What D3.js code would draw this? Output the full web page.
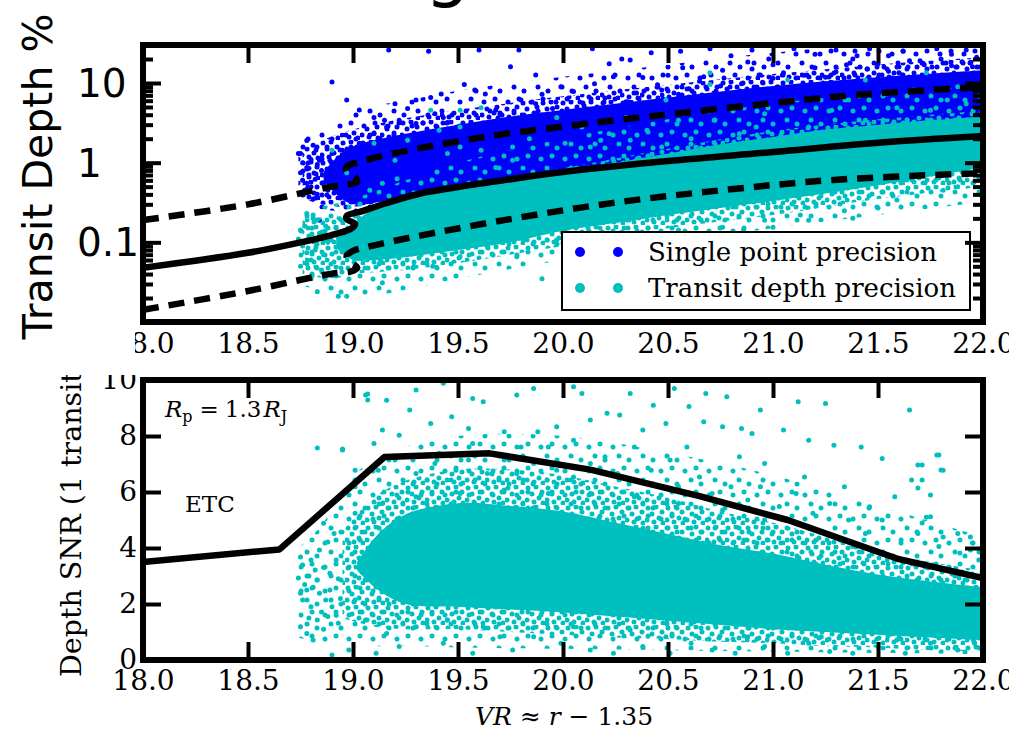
<!DOCTYPE html>
<html>
<head>
<meta charset="utf-8">
<script src="https://d3js.org/d3.v7.min.js"></script>
<style>
  body { margin: 0; background: #fff; }
  svg { display: block; }
</style>
</head>
<body>
<svg width="1009" height="731"></svg>
<script>
// ---- data ----
let xTicks = [18.0, 18.5, 19.0, 19.5, 20.0, 20.5, 21.0, 21.5, 22.0];
let depthTicks = [10, 1, 0.1];
let depthLabels = ['10', '1', '0.1'];
let snrTicks = [0, 2, 4, 6, 8, 10];

// transit depth curves (mag, depth %)
let solidDepth = [[18.0,0.048],[18.5,0.074],[18.75,0.1],[18.92,0.128],[18.99,0.148],[19.01,0.17],[18.97,0.195],[18.97,0.215],[19.04,0.245],[19.15,0.305],[19.32,0.41],[19.5,0.495],[19.75,0.62],[20.0,0.765],[20.5,1.05],[21.0,1.36],[21.5,1.78],[22.0,2.16]];
let upperDashed = [[18.0,0.19],[18.5,0.3],[18.9,0.5],[18.97,0.53],[19.02,0.57],[19.01,0.66],[18.97,0.78],[18.97,0.9],[19.03,1.02],[19.1,1.15],[19.2,1.32],[19.6,2.05],[20.14,3.15],[20.56,4.2],[21.0,5.6],[21.4,7.1],[22.0,8.9]];
let lowerDashed = [[18.0,0.0142],[18.5,0.0245],[18.9,0.0405],[18.99,0.043],[19.02,0.048],[18.98,0.058],[18.97,0.068],[19.0,0.078],[19.07,0.088],[19.29,0.117],[19.72,0.19],[20.24,0.313],[20.77,0.455],[21.29,0.607],[22.0,0.74]];

// point clouds as density bands [mag, low, high]: outer (sparse), mid (dense), core (solid)
let blueOuter = [[18.74,0.32,2.0],[18.85,0.26,2.6],[19.0,0.25,4.5],[19.25,0.35,6],[19.5,0.45,8],[20.0,0.65,12],[20.5,0.95,17],[21.0,1.2,24],[21.5,1.5,30],[22.0,1.8,30]];
let blueMid = [[18.76,0.36,1.5],[18.85,0.3,1.9],[19.0,0.28,2.6],[19.25,0.38,3.6],[19.5,0.48,4.6],[20.0,0.72,6.8],[20.5,1.0,9.5],[21.0,1.3,13],[21.5,1.6,17],[22.0,1.9,21]];
let blueCore = [[18.86,0.6,0.75],[18.92,0.4,1.15],[19.0,0.3,1.6],[19.25,0.38,2.3],[19.5,0.5,3.0],[19.75,0.62,3.8],[20.0,0.76,4.6],[20.5,1.05,6.6],[21.0,1.35,9.2],[21.5,1.7,11.8],[22.0,2.1,14.5]];
let cyanOuter = [[18.74,0.03,0.25],[18.9,0.022,0.3],[19.0,0.02,0.35],[19.25,0.025,0.6],[19.5,0.035,1.0],[20.0,0.06,2.0],[20.5,0.1,3.5],[21.0,0.15,5.5],[21.5,0.22,7.5],[22.0,0.32,9]];
let cyanMid = [[18.76,0.04,0.2],[18.9,0.035,0.21],[19.0,0.04,0.22],[19.25,0.045,0.36],[19.5,0.055,0.5],[20.0,0.09,0.85],[20.5,0.15,1.5],[21.0,0.22,2.5],[21.5,0.35,3.5],[22.0,0.5,4.5]];
let cyanCore = [[18.92,0.085,0.12],[19.0,0.06,0.17],[19.1,0.06,0.27],[19.25,0.065,0.37],[19.5,0.08,0.48],[19.75,0.1,0.6],[20.0,0.14,0.78],[20.25,0.175,1.0],[20.5,0.22,1.3],[20.75,0.27,1.7],[21.0,0.33,2.1],[21.25,0.41,2.6],[21.5,0.52,3.0],[21.75,0.67,3.4],[22.0,0.87,3.8]];

let blueDots = [[19.17,26],[19.36,25],[19.6,26],[19.79,26],[20.14,27],[20.28,20],[20.42,24],[20.56,25],[20.7,27],[20.8,22],[20.9,26],[20.98,20],[21.1,27],[21.2,23],[21.3,26],[21.38,20],[21.46,27],[21.55,22],[21.62,25],[21.7,19],[21.78,27],[21.85,23],[21.92,26],[21.97,21],
  [19.75,16],[19.87,12.6],[19.99,9],[20.05,7.8],[20.22,17.5],[20.24,12],[20.32,19.4],[20.38,11.7],[20.47,8.2],[20.57,15.5],[20.67,12],[20.76,14.5],[20.88,18.4],[20.94,12.6],
  [18.97,6.1],[19.03,4.6],[19.1,3.7],[19.15,3.4],[19.26,4.8],[19.3,6.1],[19.37,6.6],[19.42,7.3],[19.53,9.6],[19.58,8.2],[19.63,7.3],[19.68,4.6],[19.87,5.5],[19.8,6.1],[19.39,4.1],[19.2,5.5],[18.9,10.3],
  [18.78,1.9],[18.81,1.66],[18.75,1.3],[18.84,1.07],[18.78,0.87],[18.9,1.3],[18.74,1.3],[18.79,0.85],[18.89,1.07],[18.95,1.43],[19.03,1.75],[19.1,2.3],[19.16,2.8],[19.22,3.4],[19.3,3.1],[19.37,2.3],[19.43,3.7],[19.55,2.8],[18.91,0.75],[19.26,1.43],
  [18.76,0.6],[18.77,0.45],[18.79,0.7],[18.8,0.5],[18.82,0.62],[18.83,0.4],[18.85,0.8],[18.76,1.0],[18.8,1.1],[18.83,0.95],[18.86,0.55],[18.88,0.45],[18.75,0.75],[18.78,0.55],[18.81,0.35],[18.84,0.19],
  [20.1,5.2],[20.2,6.5],[20.35,7.5],[20.45,9.5],[20.6,8.5],[20.65,10.5],[20.85,9.8],[21.0,11.5],[21.05,13.5],[21.15,12.5],[21.2,15.5],[21.3,13.8],[21.35,17],[21.45,15],[21.5,17.5],[21.6,16],[21.65,19],[21.72,17],[21.8,20],[21.85,16.5],[21.9,18.5],[21.95,16],[21.55,14],[21.25,11.8],[20.95,10.2],[20.75,9.2],[20.55,7.2],[20.3,5.8],[19.95,4.8],[19.7,4.2],[19.45,3.2],[19.9,7.2],[20.15,9.8],[20.5,12.5],[20.9,15],[21.4,22],[21.0,17],[21.6,13.5]];

let cyanDots = [[18.93,0.021],[19.14,0.031],[19.29,0.05],[19.38,0.05],[19.51,0.066],[19.64,0.088],[19.78,0.066],[19.9,0.035],[19.97,0.107],[20.09,0.074],[20.24,0.107],[20.38,0.13],[20.55,0.143],[20.7,0.13],[20.76,0.155],[20.86,0.143],[20.96,0.19],[21.13,0.22],[21.34,0.25],[21.5,0.27],[21.59,0.34],[21.81,0.45],[21.88,0.5],[21.0,0.155],[21.17,0.19],[21.38,0.2],
  [18.83,0.024],[18.75,0.143],[18.81,0.2],[18.9,1.43],[18.75,0.05],[18.78,0.074],[18.9,0.038],[18.86,0.107],[18.97,0.021],[18.78,0.23],[18.81,0.22],[19.08,0.45],[19.14,0.55],[19.21,0.63],[19.29,0.42],[19.13,0.06],
  [18.76,0.09],[18.79,0.12],[18.8,0.06],[18.82,0.08],[18.84,0.13],[18.86,0.07],[18.88,0.1],[18.77,0.16],[18.85,0.045],[18.8,0.035],[18.87,0.16],[18.74,0.11],
  [19.45,1.3],[19.51,1.57],[19.61,1.43],[19.76,1.07],[19.76,1.57],[19.51,4.56],[19.61,4.9],[19.37,4.56],[19.68,0.87],[19.84,2.0],[19.97,3.7],[20.01,1.75],[20.13,1.57],[20.22,2.3],[20.3,3.7],[20.32,1.91],[20.4,2.56],[20.47,1.57],[20.55,3.42],[20.49,6.1],[20.61,2.0],[20.7,9.6],[20.72,3.42],[20.8,4.9],[20.84,2.3],[20.92,2.8],[20.96,4.1],[21.07,10.9],[21.09,6.1],[21.17,2.8],[21.28,4.56],[21.36,6.1],[21.44,3.42],[21.54,7.3],[21.59,4.9],[21.67,8.15],[21.73,13.5],[21.75,4.56],[21.83,6.1],[21.88,9.0],[21.92,5.5],[21.05,1.91],[21.38,2.3],[19.51,2.8],[19.41,2.56],[19.26,1.91],[19.1,1.75],[19.2,1.07],[18.97,0.75],[20.7,13.5],[21.44,10.9],[20.18,1.91],[20.09,2.8]];

// SNR panel
let etcLine = [[18.0,3.5],[18.65,3.95],[19.15,7.25],[19.65,7.38],[20.13,6.8],[20.65,5.85],[21.07,5.0],[21.6,3.6],[22.0,2.93]];
let snrOuter = [[18.74,0.8,4.0],[18.85,0.6,4.8],[19.0,0.5,6.6],[19.25,0.5,7.6],[19.5,0.45,8.0],[20.0,0.4,8.0],[20.5,0.35,7.4],[21.0,0.3,6.6],[21.5,0.25,5.5],[22.0,0.2,4.4]];
let snrMid = [[18.95,1.5,4.6],[19.1,1.2,5.8],[19.25,1.1,6.4],[19.5,1.1,6.8],[19.75,1.0,6.8],[20.0,0.9,6.6],[20.25,0.8,6.2],[20.5,0.75,5.8],[20.75,0.65,5.3],[21.0,0.6,4.9],[21.25,0.5,4.4],[21.5,0.45,3.9],[21.75,0.35,3.5],[22.0,0.3,3.2]];
let snrCore = [[19.02,3.2,3.5],[19.12,2.5,4.5],[19.25,2.0,5.2],[19.5,1.9,5.6],[19.75,1.8,5.5],[20.0,1.7,5.3],[20.25,1.55,4.9],[20.5,1.4,4.5],[20.75,1.25,4.1],[21.0,1.1,3.8],[21.25,1.0,3.4],[21.5,0.9,3.05],[21.75,0.8,2.8],[22.0,0.7,2.6]];
let snrDots = [[18.75,3.68],[18.76,3.39],[18.8,3.57],[18.84,3.93],[18.88,4.21],[18.91,4.52],[18.86,4.88],[18.75,2.38],[18.78,2.5],[18.76,2.14],[18.8,1.9],[18.83,2.86],[18.84,2.38],[18.87,2.14],[18.89,2.5],[18.9,1.9],[18.75,1.19],[18.78,0.95],[18.81,0.71],[18.83,1.43],[18.88,1.55],[18.9,0.18],[18.82,3.21],[18.89,3.1],[18.92,3.57],[18.85,1.71],[18.74,2.93],[18.83,7.57],[18.95,7.54],[19.06,9.46],[19.07,9.29],[18.77,2.7],[18.79,3.0],[18.81,2.6],[18.86,3.3],[18.93,2.9],[18.94,2.2],[18.92,1.6],[18.79,1.5],[18.86,1.1],
  [19.07,9.5],[19.16,9.28],[19.3,9.64],[19.43,9.88],[19.27,8.93],[19.57,9.34],[19.62,9.22],[19.78,9.46],[19.86,9.7],[20.05,9.76],[20.09,9.52],[20.32,9.52],[20.43,9.1],[20.53,9.7],[20.6,9.05],[20.68,9.52],[20.78,9.4],[20.94,8.93],[21.12,9.22],[21.25,9.16],[21.65,8.93],[19.14,8.21],[19.22,8.03],[19.37,8.45],[19.47,8.69],[19.55,8.27],[19.72,8.15],[19.88,8.15],[19.97,8.33],[20.13,8.57],[20.21,8.81],[20.27,8.75],[20.38,8.21],[20.49,8.45],[20.67,8.51],[20.76,8.33],[20.85,8.27],[20.9,8.09],[21.05,8.21],[21.17,7.85],[21.29,7.67],[21.42,7.61],[21.79,7.32],[21.52,7.2],[21.69,6.96],[21.81,6.78],[21.71,6.43],[21.58,5.83],[21.75,5.12],[21.46,5.47],[21.34,6.19],[21.15,6.54],[20.96,7.02],[20.84,7.26],[20.59,7.61],[20.34,7.61],[20.05,7.85],[19.8,7.61],[19.57,7.73],[19.41,7.38],[19.24,7.26],[19.01,6.78],[18.95,7.5],[19.1,7.73],
  [19.01,6.19],[19.12,6.78],[19.2,7.14],[19.3,6.66],[19.39,7.02],[19.49,6.78],[19.55,7.14],[19.64,6.66],[19.72,7.14],[19.78,6.66],[19.86,7.02],[19.93,7.61],[19.97,6.78],[20.05,6.54],[20.13,7.02],[20.2,7.26],[20.26,6.66],[20.34,6.43],[20.42,6.78],[20.51,7.14],[20.55,6.19],[20.65,6.54],[20.71,5.95],[20.8,6.19],[20.88,5.71],[20.94,6.19],[21.03,5.48],[21.11,5.95],[21.19,5.24],[21.27,5.59],[21.36,5.0],[21.44,4.52],[21.52,5.0],[21.61,4.29],[21.69,4.52],[21.79,4.05],[21.88,4.52],[21.94,3.93],[21.98,3.57],[21.38,4.05],[21.17,4.76],[20.96,5.0],[20.76,5.36],[20.55,5.59],[20.34,5.83],[20.13,5.95],[19.93,5.95],[19.72,6.07],[19.51,5.95],[19.3,5.83],[19.14,5.59],[19.01,5.24],
  [19.06,1.43],[19.16,0.95],[19.22,0.48],[19.3,1.19],[19.43,0.6],[19.57,0.24],[19.62,1.19],[19.76,0.36],[19.86,0.83],[19.99,0.6],[20.13,0.36],[20.24,0.24],[20.32,1.07],[20.38,0.48],[20.51,0.24],[20.61,0.6],[20.71,0.36],[20.82,0.24],[20.96,0.48],[21.07,0.24],[21.17,0.6],[21.27,0.3],[21.38,0.24],[21.5,0.48],[21.63,0.24],[21.75,0.6],[21.88,0.36],[21.96,0.6],[18.93,1.31],[18.98,0.36],[19.11,0.24],[19.45,1.43],[19.7,0.83],[20.05,1.19],[20.49,0.83],[20.88,0.83],[21.23,0.83],[21.59,0.71],[21.83,0.95],
  [21.78,7.32],[21.8,6.79],[21.71,6.96],[21.66,6.43],[21.69,6.14],[21.75,5.89],[21.73,5.1],[21.71,4.89],[21.81,4.39],[21.94,4.39],[21.89,3.82],[21.95,4.18]];

let legendItems = [{label: 'Single point precision', color: '#0000ff'}, {label: 'Transit depth precision', color: '#00bfbf'}];

// ---- layout ----
let blue = '#0000ff', cyan = '#00bfbf';
let serif = 'DejaVu Serif';
let pA = {left: 143, right: 983, top: 45, bottom: 322};
let pB = {left: 143, right: 983, top: 380, bottom: 660};

let svg = d3.select('svg');
let defs = svg.append('defs');
defs.append('clipPath').attr('id', 'clipA').append('rect')
  .attr('x', pA.left).attr('y', pA.top).attr('width', pA.right - pA.left).attr('height', pA.bottom - pA.top);
defs.append('clipPath').attr('id', 'clipB').append('rect')
  .attr('x', pB.left).attr('y', pB.top).attr('width', pB.right - pB.left).attr('height', pB.bottom - pB.top);
defs.append('clipPath').attr('id', 'clipTickA').append('rect')
  .attr('x', 135).attr('y', 0).attr('width', 900).attr('height', 400);
defs.append('clipPath').attr('id', 'clipLeftB').append('rect')
  .attr('x', 0).attr('y', 375).attr('width', 200).attr('height', 356);

// speckle fills for the scattered parts of the clouds
let denseTile = [[3,3],[11,2],[17,7],[7,9],[14,13],[2,15],[9,17],[18,18]];
let sparseTile = [[4,6],[15,3],[10,15],[20,19]];
function speckle(id, color, tile, size, shift) {
  let p = defs.append('pattern').attr('id', id).attr('patternUnits', 'userSpaceOnUse')
    .attr('width', size).attr('height', size)
    .attr('patternTransform', `translate(${shift},${shift})`);
  tile.forEach(d => p.append('circle').attr('cx', d[0]).attr('cy', d[1]).attr('r', 2.5).attr('fill', color));
}
speckle('blueDense', blue, denseTile, 20, 0);
speckle('blueSparse', blue, sparseTile, 24, 0);
speckle('cyanDense', cyan, denseTile, 20, 5);
speckle('cyanSparse', cyan, sparseTile, 24, 9);

let xA = d3.scaleLinear().domain([18, 22]).range([pA.left, pA.right]);
let yA = d3.scaleLog().domain([0.01, 30]).range([pA.bottom, pA.top]);
let xB = d3.scaleLinear().domain([18, 22]).range([pB.left, pB.right]);
let yB = d3.scaleLinear().domain([0, 10]).range([pB.bottom, pB.top]);

// title remnant cut off at the top edge
svg.append('text').attr('x', 425).attr('y', -6)
  .style('font-family', 'DejaVu Sans').style('font-size', '70px').text('g');

// ---- top panel ----
let gA = svg.append('g').attr('clip-path', 'url(#clipA)');

let areaA = d3.area()
  .x(d => xA(d[0])).y0(d => yA(d[1])).y1(d => yA(d[2]))
  .curve(d3.curveCatmullRom);

gA.append('path').datum(blueOuter).attr('d', areaA).attr('fill', 'url(#blueSparse)');
gA.append('path').datum(blueMid).attr('d', areaA).attr('fill', 'url(#blueDense)');
gA.append('path').datum(blueCore).attr('d', areaA).attr('fill', blue);
gA.selectAll('.bdot').data(blueDots).enter().append('circle')
  .attr('cx', d => xA(d[0])).attr('cy', d => yA(d[1])).attr('r', 2.5).attr('fill', blue);
gA.append('path').datum(cyanOuter).attr('d', areaA).attr('fill', 'url(#cyanSparse)');
gA.append('path').datum(cyanMid).attr('d', areaA).attr('fill', 'url(#cyanDense)');
gA.append('path').datum(cyanCore).attr('d', areaA).attr('fill', cyan);
gA.selectAll('.cdot').data(cyanDots).enter().append('circle')
  .attr('cx', d => xA(d[0])).attr('cy', d => yA(d[1])).attr('r', 2.5).attr('fill', cyan);

let lineA = d3.line().x(d => xA(d[0])).y(d => yA(d[1])).curve(d3.curveCatmullRom);
gA.append('path').datum(solidDepth).attr('d', lineA)
  .attr('fill', 'none').attr('stroke', '#000').attr('stroke-width', 6.5);
[upperDashed, lowerDashed].forEach(c => {
  gA.append('path').datum(c).attr('d', lineA)
    .attr('fill', 'none').attr('stroke', '#000').attr('stroke-width', 6.5)
    .attr('stroke-dasharray', '16,10');
});

// legend
let lg = svg.append('g');
lg.append('rect').attr('x', 562).attr('y', 232).attr('width', 408).attr('height', 78)
  .attr('fill', '#fff').attr('stroke', '#000').attr('stroke-width', 2);
legendItems.forEach((it, i) => {
  let yy = 252 + i * 36;
  [580, 618].forEach(cx => lg.append('circle').attr('cx', cx).attr('cy', yy).attr('r', 5).attr('fill', it.color));
  lg.append('text').attr('x', 648).attr('y', yy + 9)
    .style('font-family', serif).style('font-size', '26px').text(it.label);
});

// ---- bottom panel ----
let gB = svg.append('g').attr('clip-path', 'url(#clipB)');
let areaB = d3.area()
  .x(d => xB(d[0])).y0(d => yB(d[1])).y1(d => yB(d[2]))
  .curve(d3.curveCatmullRom);
gB.append('path').datum(snrOuter).attr('d', areaB).attr('fill', 'url(#cyanSparse)');
gB.append('path').datum(snrMid).attr('d', areaB).attr('fill', 'url(#cyanDense)');
gB.append('path').datum(snrCore).attr('d', areaB).attr('fill', cyan);
gB.selectAll('.sdot').data(snrDots).enter().append('circle')
  .attr('cx', d => xB(d[0])).attr('cy', d => yB(d[1])).attr('r', 2.5).attr('fill', cyan);
gB.append('path').datum(etcLine)
  .attr('d', d3.line().x(d => xB(d[0])).y(d => yB(d[1])))
  .attr('fill', 'none').attr('stroke', '#000').attr('stroke-width', 6.5)
  .attr('stroke-linejoin', 'round');

// ---- axes ----
function styleAxis(g, size) {
  g.select('.domain').remove();
  g.selectAll('line').attr('stroke', '#000').attr('stroke-width', 4);
  g.selectAll('text').style('font-family', serif).style('font-size', size || '28px').attr('fill', '#000');
}

let minorDepth = yA.ticks().filter(d => Math.abs(Math.log10(d) - Math.round(Math.log10(d))) > 1e-6 && d < 30);

// top panel ticks
svg.append('g').attr('transform', `translate(0,${pA.bottom})`).attr('clip-path', 'url(#clipTickA)')
  .call(d3.axisBottom(xA).tickValues(xTicks).tickSize(-18).tickPadding(11).tickFormat(d3.format('.1f')))
  .call(styleAxis);
svg.append('g').attr('transform', `translate(0,${pA.top})`)
  .call(d3.axisTop(xA).tickValues(xTicks).tickSize(-18).tickFormat(''))
  .call(styleAxis);
[[d3.axisLeft, pA.left], [d3.axisRight, pA.right]].forEach(([ax, xx]) => {
  svg.append('g').attr('transform', `translate(${xx},0)`)
    .call(ax(yA).tickValues(depthTicks).tickSize(-18).tickFormat(''))
    .call(styleAxis);
  svg.append('g').attr('transform', `translate(${xx},0)`)
    .call(ax(yA).tickValues(minorDepth).tickSize(-10).tickFormat(''))
    .call(styleAxis);
});
svg.selectAll('.depthLabel').data(depthTicks).enter().append('text')
  .attr('x', 77).attr('y', d => yA(d)).attr('dy', '0.36em')
  .style('font-family', 'DejaVu Sans').style('font-size', '39px')
  .text((d, i) => depthLabels[i]);

svg.append('text')
  .attr('transform', `translate(52,${(10 + 343) / 2}) rotate(-90)`)
  .attr('text-anchor', 'middle')
  .style('font-family', 'DejaVu Sans').style('font-size', '41px')
  .text('Transit Depth %');

svg.append('rect').attr('x', pA.left).attr('y', pA.top)
  .attr('width', pA.right - pA.left).attr('height', pA.bottom - pA.top)
  .attr('fill', 'none').attr('stroke', '#000').attr('stroke-width', 6);

// bottom panel ticks
svg.append('g').attr('transform', `translate(0,${pB.bottom})`)
  .call(d3.axisBottom(xB).tickValues(xTicks).tickSize(-18).tickPadding(10).tickFormat(d3.format('.1f')))
  .call(styleAxis);
svg.append('g').attr('transform', `translate(0,${pB.top})`)
  .call(d3.axisTop(xB).tickValues(xTicks).tickSize(-18).tickFormat(''))
  .call(styleAxis);
let leftB = svg.append('g').attr('clip-path', 'url(#clipLeftB)');
leftB.append('g').attr('transform', `translate(${pB.left},0)`)
  .call(d3.axisLeft(yB).tickValues(snrTicks).tickSize(-18).tickPadding(6).tickFormat(d3.format('d')))
  .call(styleAxis);
svg.append('g').attr('transform', `translate(${pB.right},0)`)
  .call(d3.axisRight(yB).tickValues(snrTicks).tickSize(-18).tickFormat(''))
  .call(styleAxis);

leftB.append('text')
  .attr('transform', 'translate(81,677) rotate(-90)')
  .style('font-family', serif).style('font-size', '28.5px')
  .text('Depth SNR (1 transit');

svg.append('rect').attr('x', pB.left).attr('y', pB.top)
  .attr('width', pB.right - pB.left).attr('height', pB.bottom - pB.top)
  .attr('fill', 'none').attr('stroke', '#000').attr('stroke-width', 6);

// annotations
let rp = svg.append('text').attr('x', 165).attr('y', 417)
  .style('font-family', serif).style('font-size', '23px');
rp.append('tspan').style('font-style', 'italic').text('R');
rp.append('tspan').attr('dy', 5).style('font-size', '16px').text('p');
rp.append('tspan').attr('dy', -5).attr('dx', 7).text('=');
rp.append('tspan').attr('dx', 6).text('1.3');
rp.append('tspan').attr('dx', 2).style('font-style', 'italic').text('R');
rp.append('tspan').attr('dy', 5).style('font-size', '16px').text('J');

svg.append('text').attr('x', 185).attr('y', 512)
  .style('font-family', serif).style('font-size', '23px').text('ETC');

let xl = svg.append('text').attr('x', 564).attr('y', 725).attr('text-anchor', 'middle')
  .style('font-family', serif).style('font-size', '25px');
xl.append('tspan').style('font-style', 'italic').text('VR');
xl.append('tspan').text(' ≈ ');
xl.append('tspan').style('font-style', 'italic').text('r');
xl.append('tspan').text(' − 1.35');
</script>
</body>
</html>
